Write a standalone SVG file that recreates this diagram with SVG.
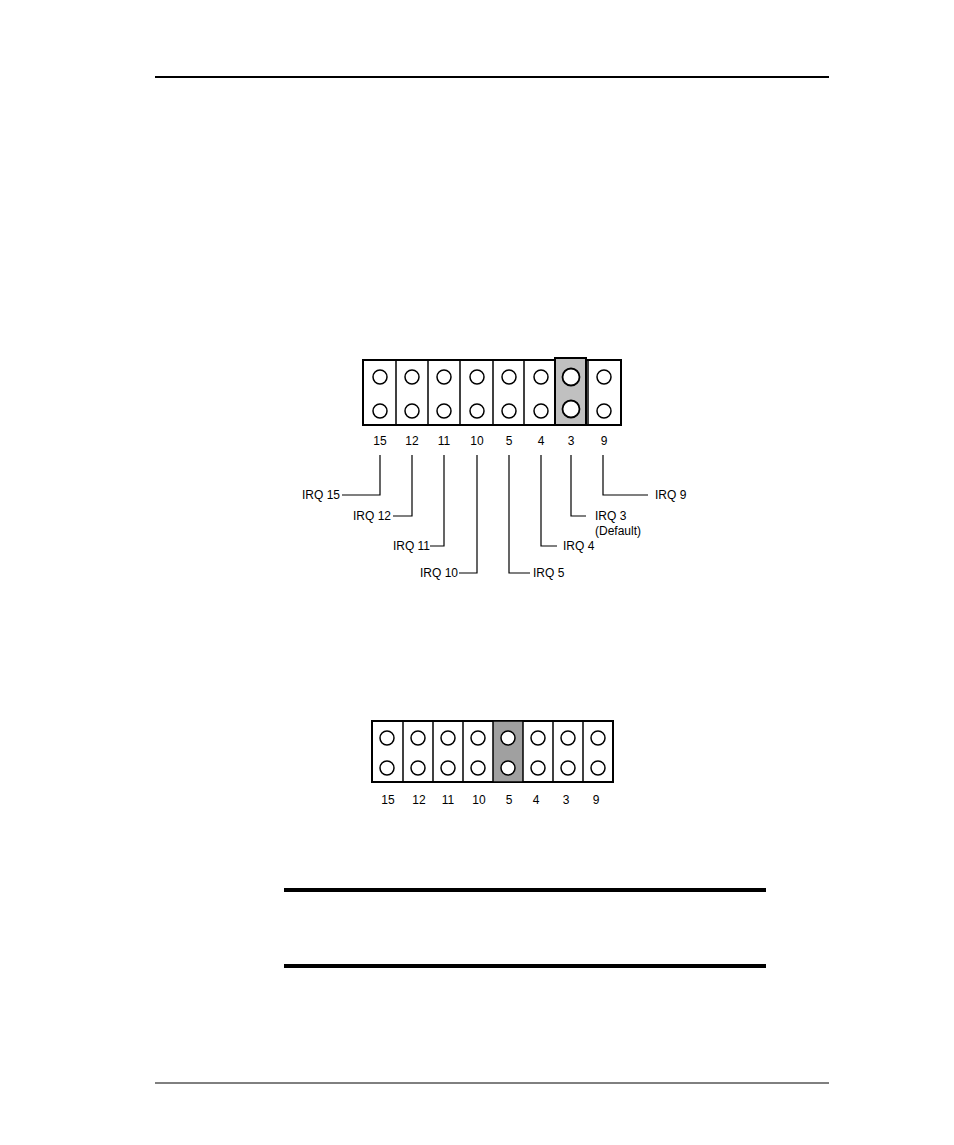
<svg xmlns="http://www.w3.org/2000/svg" width="954" height="1145" viewBox="0 0 954 1145">
<style>
.c{fill:#fff;stroke:#000;stroke-width:1.5}
.p{fill:#fff;stroke:#000;stroke-width:1.8}
.t{font-family:"Liberation Sans",Arial,sans-serif;font-size:12px;fill:#000}
.l{fill:none;stroke:#000;stroke-width:1.2}
</style>
<rect width="954" height="1145" fill="#fff"/>
<line x1="155" y1="77" x2="829" y2="77" stroke="#000" stroke-width="2"/>
<line x1="155" y1="1083" x2="829" y2="1083" stroke="#000" stroke-width="1"/>
<line x1="284" y1="890" x2="766" y2="890" stroke="#000" stroke-width="4"/>
<line x1="284" y1="966" x2="766" y2="966" stroke="#000" stroke-width="4"/>
<g id="jumper1">
<rect x="363" y="360" width="258" height="65" fill="#fff" stroke="#000" stroke-width="2"/>
<rect x="555" y="358" width="31" height="67" fill="#c0c0c0" stroke="#000" stroke-width="2"/>
<g stroke="#000" stroke-width="1.5"><line x1="396" y1="360" x2="396" y2="425"/><line x1="428" y1="360" x2="428" y2="425"/><line x1="460" y1="360" x2="460" y2="425"/><line x1="493" y1="360" x2="493" y2="425"/><line x1="524" y1="360" x2="524" y2="425"/><line x1="588" y1="360" x2="588" y2="425"/></g>
<g class="c"><circle cx="380" cy="377" r="7"/><circle cx="412" cy="377" r="7"/><circle cx="444" cy="377" r="7"/><circle cx="477" cy="377" r="7"/><circle cx="509" cy="377" r="7"/><circle cx="541" cy="377" r="7"/><circle cx="604" cy="377" r="7"/>
<circle cx="380" cy="411" r="7"/><circle cx="412" cy="411" r="7"/><circle cx="444" cy="411" r="7"/><circle cx="477" cy="411" r="7"/><circle cx="509" cy="411" r="7"/><circle cx="541" cy="411" r="7"/><circle cx="604" cy="411" r="7"/></g>
<g class="p"><circle cx="571" cy="377" r="8.5"/><circle cx="571" cy="409" r="8.5"/></g>
<g class="t" text-anchor="middle"><text x="380" y="445">15</text><text x="412" y="445">12</text><text x="444" y="445">11</text><text x="477" y="445">10</text><text x="509" y="445">5</text><text x="541" y="445">4</text><text x="571" y="445">3</text><text x="604" y="445">9</text></g>
</g>
<g id="connectors" class="l">
<polyline points="380,455 380,495 342,495"/>
<polyline points="412,455 412,516 393,516"/>
<polyline points="444,455 444,546 430,546"/>
<polyline points="477,455 477,573 459,573"/>
<polyline points="509,455 509,573 530,573"/>
<polyline points="541,455 541,546 557,546"/>
<polyline points="571,455 571,516 586,516"/>
<polyline points="603,455 603,495 648,495"/>
</g>
<g id="labels" class="t">
<text x="340" y="499" text-anchor="end">IRQ 15</text>
<text x="391" y="520" text-anchor="end">IRQ 12</text>
<text x="430" y="550" text-anchor="end">IRQ 11</text>
<text x="458" y="577" text-anchor="end">IRQ 10</text>
<text x="533" y="577">IRQ 5</text>
<text x="563" y="550">IRQ 4</text>
<text x="595" y="520">IRQ 3</text>
<text x="595" y="535">(Default)</text>
<text x="655" y="499">IRQ 9</text>
</g>
<g id="jumper2">
<rect x="372" y="721" width="241" height="61" fill="#fff" stroke="#000" stroke-width="2"/>
<rect x="493" y="721" width="30" height="61" fill="#a0a0a0" stroke="#000" stroke-width="1.5"/>
<g stroke="#000" stroke-width="1.5"><line x1="403" y1="721" x2="403" y2="782"/><line x1="433" y1="721" x2="433" y2="782"/><line x1="463" y1="721" x2="463" y2="782"/><line x1="553" y1="721" x2="553" y2="782"/><line x1="583" y1="721" x2="583" y2="782"/></g>
<g class="c"><circle cx="387" cy="738" r="7"/><circle cx="418" cy="738" r="7"/><circle cx="448" cy="738" r="7"/><circle cx="478" cy="738" r="7"/><circle cx="508" cy="738" r="7"/><circle cx="538" cy="738" r="7"/><circle cx="568" cy="738" r="7"/><circle cx="598" cy="738" r="7"/>
<circle cx="387" cy="768" r="7"/><circle cx="418" cy="768" r="7"/><circle cx="448" cy="768" r="7"/><circle cx="478" cy="768" r="7"/><circle cx="508" cy="768" r="7"/><circle cx="538" cy="768" r="7"/><circle cx="568" cy="768" r="7"/><circle cx="598" cy="768" r="7"/></g>
<g class="t" text-anchor="middle"><text x="388" y="804">15</text><text x="419" y="804">12</text><text x="448" y="804">11</text><text x="479" y="804">10</text><text x="509" y="804">5</text><text x="536" y="804">4</text><text x="566" y="804">3</text><text x="596" y="804">9</text></g>
</g>
</svg>
